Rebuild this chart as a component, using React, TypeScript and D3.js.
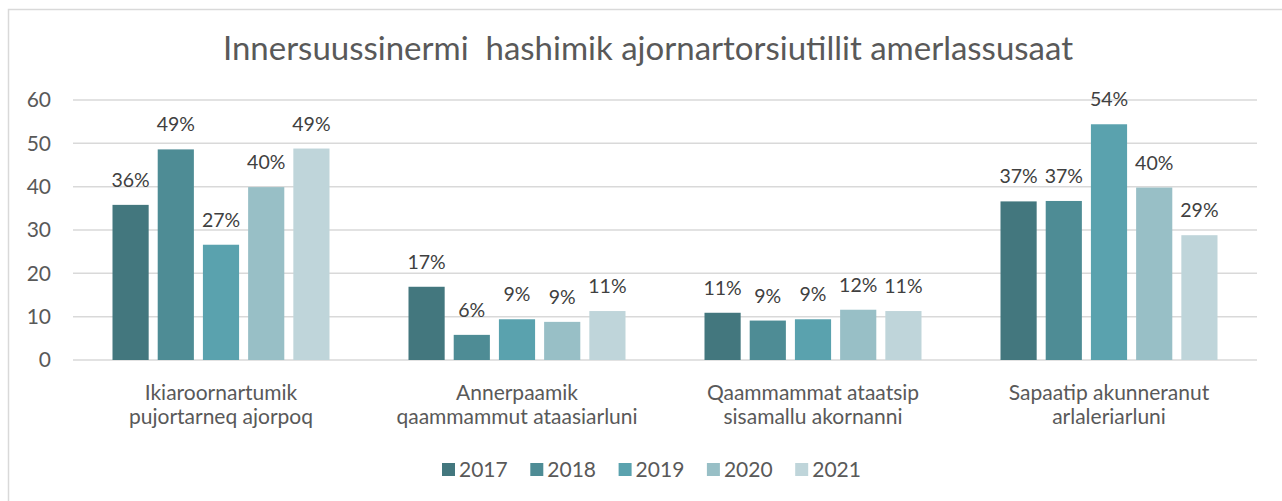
import React from "react";
import * as d3 from "d3";

const title = "Innersuussinermi  hashimik ajornartorsiutillit amerlassusaat";
const categories = [
  ["Ikiaroornartumik", "pujortarneq ajorpoq"],
  ["Annerpaamik", "qaammammut ataasiarluni"],
  ["Qaammammat ataatsip", "sisamallu akornanni"],
  ["Sapaatip akunneranut", "arlaleriarluni"],
];
const series = ["2017", "2018", "2019", "2020", "2021"];
const v2017 = [35.8, 16.9, 10.9, 36.6];
const v2018 = [48.6, 5.8, 9.1, 36.7];
const v2019 = [26.6, 9.4, 9.4, 54.4];
const v2020 = [39.9, 8.8, 11.6, 39.8];
const v2021 = [48.8, 11.3, 11.3, 28.8];
const yTicks = [0, 10, 20, 30, 40, 50, 60];
const colors = ["#43777E", "#4E8C95", "#5AA2AE", "#98BFC6", "#BFD5DA"];

const values = [v2017, v2018, v2019, v2020, v2021];
const FONT = "Lato, 'Open Sans', sans-serif";

export default function App() {
  const W = 1282, H = 501;
  const left = 73, right = 1257, top = 100, bottom = 360;
  const y = d3.scaleLinear().domain([0, 60]).range([bottom, top]);
  const catKeys = categories.map((c) => c.join(" "));
  const x0 = d3.scaleBand().domain(catKeys).range([left, right]);
  const x1 = d3
    .scaleBand()
    .domain(series)
    .range([39.5, x0.bandwidth() - 39.5])
    .paddingInner(0.2);

  return (
    <svg
      width={W}
      height={H}
      style={{ position: "absolute", left: 0, top: 0, background: "#fff" }}
      fontFamily={FONT}
    >
      <rect x={8.5} y={9.5} width={1400} height={700} fill="#fff" stroke="#d9d9d9" strokeWidth={1.5} />
      <text x={648} y={60} textAnchor="middle" fontSize={33} fill="#595959">
        {title.replace(/ /g, "\u00a0")}
      </text>
      {yTicks.map((t) => (
        <g key={t}>
          <line x1={left} x2={right} y1={y(t)} y2={y(t)} stroke="#d9d9d9" strokeWidth={1.5} />
          <text x={51} y={y(t)} dy="0.35em" textAnchor="end" fontSize={21} fill="#595959">
            {t}
          </text>
        </g>
      ))}
      {catKeys.map((ck, ci) => (
        <g key={ck} transform={`translate(${x0(ck)},0)`}>
          {series.map((s, si) => {
            const v = values[si][ci];
            const bx = x1(s)!;
            const bw = x1.bandwidth();
            return (
              <g key={s}>
                <rect x={bx} y={y(v)} width={bw} height={bottom - y(v)} fill={colors[si]} />
                <text
                  x={bx + bw / 2}
                  y={y(v) - 18}
                  textAnchor="middle"
                  fontSize={19.5}
                  fill="#404040"
                >
                  {Math.round(v) + "%"}
                </text>
              </g>
            );
          })}
          {categories[ci].map((line, li) => (
            <text
              key={li}
              x={x0.bandwidth() / 2}
              y={400 + li * 24}
              textAnchor="middle"
              fontSize={21}
              fill="#595959"
            >
              {line}
            </text>
          ))}
        </g>
      ))}
      {series.map((s, si) => (
        <g key={s} transform={`translate(${442 + si * 88.3},0)`}>
          <rect x={0} y={463} width={13} height={13} fill={colors[si]} />
          <text x={17} y={476.5} fontSize={21} fill="#595959">
            {s}
          </text>
        </g>
      ))}
    </svg>
  );
}
